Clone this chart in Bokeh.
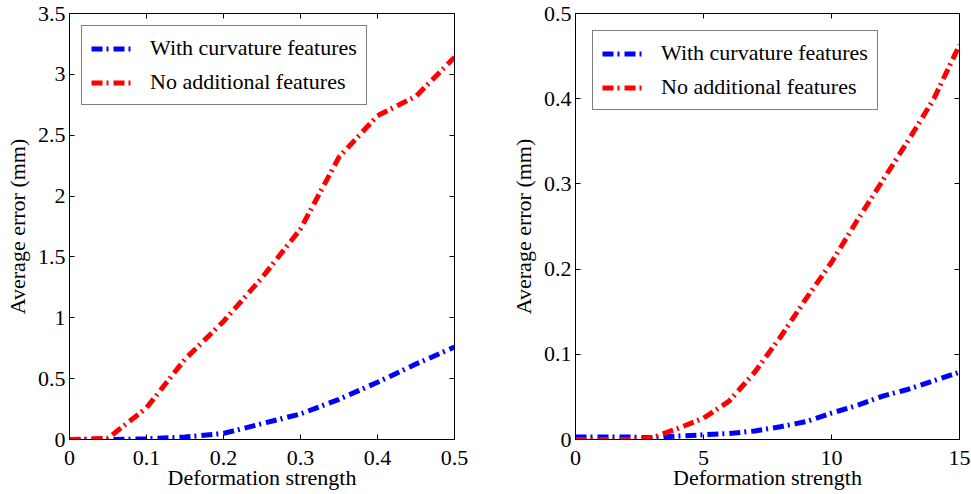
from bokeh.plotting import figure
from bokeh.layouts import row
from bokeh.models import LinearAxis, FixedTicker, Range1d, Legend, LegendItem, CustomJSTickFormatter
from bokeh.embed import file_html
from bokeh.resources import INLINE

# ---------------- data ----------------
series_names = ["With curvature features", "No additional features"]
series_colors = ["#0000ff", "#ff0000"]

left_x = [0.0, 0.05, 0.10, 0.15, 0.20, 0.25, 0.30, 0.35, 0.40, 0.45, 0.50]
left_with = [0.0, 0.0, 0.005, 0.02, 0.05, 0.13, 0.21, 0.33, 0.47, 0.62, 0.76]
left_none = [0.0, 0.01, 0.26, 0.66, 0.97, 1.33, 1.73, 2.32, 2.66, 2.82, 3.14]
left_xticks = [0, 0.1, 0.2, 0.3, 0.4, 0.5]
left_xtick_labels = ["0", "0.1", "0.2", "0.3", "0.4", "0.5"]
left_yticks = [0, 0.5, 1, 1.5, 2, 2.5, 3, 3.5]
left_ytick_labels = ["0", "0.5", "1", "1.5", "2", "2.5", "3", "3.5"]

right_x = [0, 1, 2, 3, 4, 5, 6, 7, 8, 9, 10, 11, 12, 13, 14, 15]
right_with = [0.003, 0.003, 0.003, 0.002, 0.004, 0.0055, 0.007, 0.010, 0.015,
              0.021, 0.031, 0.040, 0.051, 0.059, 0.069, 0.079]
right_none = [0.0, 0.0, 0.0, 0.002, 0.013, 0.025, 0.045, 0.079, 0.120, 0.165,
              0.208, 0.257, 0.304, 0.351, 0.400, 0.463]
right_xticks = [0, 5, 10, 15]
right_xtick_labels = ["0", "5", "10", "15"]
right_yticks = [0, 0.1, 0.2, 0.3, 0.4, 0.5]
right_ytick_labels = ["0", "0.1", "0.2", "0.3", "0.4", "0.5"]

x_title = "Deformation strength"
y_title = "Average error (mm)"

FONT = "Liberation Serif"
FS = "22px"


def panel(xs, y_with, y_none, xticks, xlabels, yticks, ylabels, xr, yr,
          width, border_left, border_right, legend_margin, ylabel_standoff):
    p = figure(width=width, height=494, output_backend="svg", toolbar_location=None,
               x_range=Range1d(*xr), y_range=Range1d(*yr),
               min_border_left=border_left, min_border_right=border_right,
               min_border_top=13, min_border_bottom=55)
    p.xgrid.visible = False
    p.ygrid.visible = False
    p.outline_line_color = "black"
    p.outline_line_width = 1
    p.background_fill_color = "white"
    p.border_fill_color = "white"

    for ax, ticks, labels in ((p.xaxis[0], xticks, xlabels), (p.yaxis[0], yticks, ylabels)):
        ax.ticker = FixedTicker(ticks=ticks)
        ax.major_label_overrides = {t: l for t, l in zip(ticks, labels)}
        ax.major_tick_in = 5
        ax.major_tick_out = 0
        ax.minor_tick_line_color = None
        ax.axis_line_color = "black"
        ax.major_tick_line_color = "black"
        ax.major_label_text_font = FONT
        ax.major_label_text_font_size = FS
        ax.major_label_text_color = "black"
        ax.axis_label_text_font = FONT
        ax.axis_label_text_font_size = FS
        ax.axis_label_text_font_style = "normal"
        ax.axis_label_text_color = "black"
    p.xaxis.axis_label = x_title
    p.yaxis.axis_label = y_title
    p.xaxis.major_label_standoff = 11
    p.xaxis.axis_label_standoff = -3
    p.yaxis.major_label_standoff = 4
    p.yaxis.axis_label_standoff = ylabel_standoff

    # mirrored ticks on top and right
    blank = CustomJSTickFormatter(code="return ''")
    for loc, ticks in (("above", xticks), ("right", yticks)):
        ax = LinearAxis(ticker=FixedTicker(ticks=ticks), formatter=blank,
                        major_tick_in=5, major_tick_out=0,
                        minor_tick_line_color=None, axis_line_color="black",
                        major_label_standoff=0)
        p.add_layout(ax, loc)

    r1 = p.line(xs, y_with, line_color=series_colors[0], line_width=5,
                line_dash="11 4 2 5")
    r2 = p.line(xs, y_none, line_color=series_colors[1], line_width=5,
                line_dash="11 4 2 5")

    legend = Legend(items=[LegendItem(label=series_names[0], renderers=[r1]),
                           LegendItem(label=series_names[1], renderers=[r2])],
                    location="top_left")
    legend.margin = legend_margin
    legend.padding = 9
    legend.spacing = 8
    legend.glyph_width = 42
    legend.glyph_height = 25
    legend.label_height = 25
    legend.label_standoff = 17
    legend.label_text_font = FONT
    legend.label_text_font_size = FS
    legend.label_text_color = "black"
    legend.border_line_color = "black"
    legend.border_line_width = 1
    legend.background_fill_alpha = 1
    p.add_layout(legend)
    return p


p1 = panel(left_x, left_with, left_none, left_xticks, left_xtick_labels,
           left_yticks, left_ytick_labels, (0, 0.5), (0, 3.5),
           474, 69, 20, 12, 5)
p2 = panel(right_x, right_with, right_none, right_xticks, right_xtick_labels,
           right_yticks, right_ytick_labels, (0, 15), (0, 0.5),
           497, 101, 12, 17, 5)

layout = row(p1, p2)
open("out.html", "w").write(file_html(layout, INLINE))
